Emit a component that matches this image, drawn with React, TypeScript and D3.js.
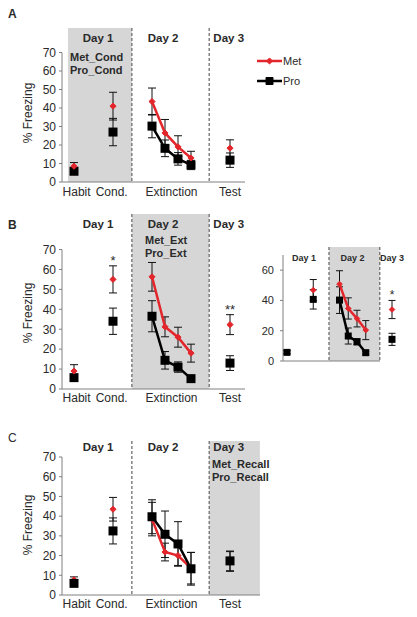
import React from "react";
import * as d3 from "d3";

// ---------- data ----------
const categories = ["Habit", "Cond.", "Ext 1", "Ext 2", "Ext 3", "Ext 4", "Test"];
const xUnits = [0, 3, 6, 7, 8, 9, 12];
const extIdx = [2, 3, 4, 5];
const xTickLabels = ["Habit", "Cond.", "Extinction", "Test"];
const xTickUnits = [0.2, 2.9, 7.5, 12];
const dayLabels = ["Day 1", "Day 2", "Day 3"];
const dayUnits = [1.85, 6.85, 11.9];
const insetDayUnits = [1.95, 7.5, 12];
const yTicks = [0, 10, 20, 30, 40, 50, 60, 70];
const insetYTicks = [0, 20, 40, 60];
const seriesNames = ["Met", "Pro"];

// Panel A
const metA = [8.5, 41, 43.5, 26.5, 19, 13, 18.3];
const metErrA = [2, 7.5, 7.3, 7.3, 6, 3.6, 4.5];
const proA = [5.8, 27, 30.2, 18.2, 12.5, 9.2, 11.8];
const proErrA = [1.5, 7.4, 6.3, 4.5, 3.4, 2.5, 3.9];
const annotA = ["Met_Cond", "Pro_Cond"];

// Panel B
const metB = [9, 55, 56.3, 31.2, 26, 18, 32.3];
const metErrB = [3.2, 6.8, 7.2, 5, 5, 4.5, 5];
const proB = [5.7, 34, 36.5, 14.4, 11, 5.2, 13];
const proErrB = [1, 6.6, 7.8, 4.4, 2.6, 1, 3.7];
const annotB = ["Met_Ext", "Pro_Ext"];
const sigB = [{ idx: 1, text: "*" }, { idx: 6, text: "**" }];

// Panel B inset
const metInset = [6, 46.8, 50.8, 34.7, 28, 20.4, 34];
const metErrInset = [1, 7, 8.8, 7, 5.5, 6.3, 6];
const proInset = [5.7, 40.7, 40.2, 16.5, 12.7, 5.5, 14.3];
const proErrInset = [1, 6.4, 8.8, 5.3, 2, 1, 4];
const sigInset = [{ idx: 6, text: "*" }];

// Panel C
const metC = [7.7, 43.5, 38.5, 21.8, 20, 13.6, 17];
const metErrC = [1.5, 6, 8.5, 4.5, 5, 8, 5];
const proC = [5.9, 32.5, 39.7, 30.8, 25.9, 13.3, 17.3];
const proErrC = [1.5, 6.6, 8.6, 11.8, 11.3, 8.3, 5];
const annotC = ["Met_Recall", "Pro_Recall"];

// ---------- style ----------
const RED = "#e3262b";
const BLACK = "#000";
const GRAY = "#d6d6d6";
const TEXT = "#2a2a2a";
const FONT = "'Liberation Sans', Arial, Helvetica, sans-serif";

type Sig = { idx: number; text: string };

interface PanelProps {
  letter?: string;
  letterY?: number;
  letterBold?: boolean;
  xr: [number, number];
  y0: number;
  y70: number;
  axisX: number;
  axisEnd: number;
  grayUnits: [number, number];
  grayTop: number;
  dashUnits: number[];
  dayY: number;
  dayUnitsArr: number[];
  dayFont: number;
  met: number[];
  metErr: number[];
  pro: number[];
  proErr: number[];
  proOnTop: boolean;
  annot?: string[];
  annotX?: number;
  annotY?: number;
  sig?: Sig[];
  sigFont?: number;
  ticks: number[];
  tickFont: number;
  tickGap: number;
  showXLabels: boolean;
  xLabelY?: number;
  yLabelY?: number;
  sqSize: number;
  diaSize: number;
  capW: number;
  lineW: number;
}

function Panel(p: PanelProps) {
  const x = d3.scaleLinear().domain([0, 12]).range(p.xr);
  const y = d3.scaleLinear().domain([0, 70]).range([p.y0, p.y70]);
  const sq = d3.symbol().type(d3.symbolSquare).size(p.sqSize)() as string;
  const dia = d3.symbol().type(d3.symbolDiamond2).size(p.diaSize)() as string;

  const mkLine = (vals: number[]) =>
    d3
      .line<number>()
      .x((i) => x(xUnits[i]))
      .y((i) => y(vals[i]))(extIdx) as string;

  const errBars = (vals: number[], errs: number[], key: string) =>
    vals.map((v, i) => {
      const cx = x(xUnits[i]);
      const yt = y(v + errs[i]);
      const yb = y(Math.max(0, v - errs[i]));
      return (
        <g key={key + i} stroke="#111" strokeWidth={1}>
          <line x1={cx} x2={cx} y1={yt} y2={yb} />
          <line x1={cx - p.capW / 2} x2={cx + p.capW / 2} y1={yt} y2={yt} />
          <line x1={cx - p.capW / 2} x2={cx + p.capW / 2} y1={yb} y2={yb} />
        </g>
      );
    });

  const metLayer = (
    <g key="met">
      <path d={mkLine(p.met)} fill="none" stroke={RED} strokeWidth={p.lineW} />
      {p.met.map((v, i) => (
        <path
          key={i}
          d={dia}
          transform={`translate(${x(xUnits[i])},${y(v)})`}
          fill={RED}
          stroke={RED}
          strokeWidth={1}
          strokeLinejoin="round"
        />
      ))}
    </g>
  );
  const proLayer = (
    <g key="pro">
      <path d={mkLine(p.pro)} fill="none" stroke={BLACK} strokeWidth={p.lineW} />
      {p.pro.map((v, i) => (
        <path key={i} d={sq} transform={`translate(${x(xUnits[i])},${y(v)})`} fill={BLACK} />
      ))}
    </g>
  );

  const gx0 = x(p.grayUnits[0]);
  const gx1 = x(p.grayUnits[1]);

  return (
    <g fontFamily={FONT}>
      {p.letter && (
        <text x={8} y={p.letterY} fontSize={12} fontWeight={p.letterBold ? "bold" : "normal"} fill={TEXT}>
          {p.letter}
        </text>
      )}
      <rect x={gx0} y={p.grayTop} width={gx1 - gx0} height={p.y0 - p.grayTop} fill={GRAY} />
      {p.dashUnits.map((u, i) => (
        <line
          key={"d" + i}
          x1={x(u)}
          x2={x(u)}
          y1={p.grayTop}
          y2={p.y0}
          stroke="#6f6f6f"
          strokeWidth={1.3}
          strokeDasharray="3,2"
        />
      ))}
      {/* axes */}
      <line x1={p.axisX} x2={p.axisX} y1={p.y0} y2={y(70)} stroke="#808080" strokeWidth={1} />
      <line x1={p.axisX} x2={p.axisEnd} y1={p.y0} y2={p.y0} stroke="#808080" strokeWidth={1} />
      {p.ticks.map((t) => (
        <g key={"t" + t}>
          <line x1={p.axisX - 3} x2={p.axisX} y1={y(t)} y2={y(t)} stroke="#808080" />
          <text
            x={p.axisX - p.tickGap}
            y={y(t)}
            dy="0.36em"
            textAnchor="end"
            fontSize={p.tickFont}
            fill={TEXT}
          >
            {t}
          </text>
        </g>
      ))}
      {p.showXLabels &&
        xTickLabels.map((l, i) => (
          <text key={l} x={x(xTickUnits[i])} y={p.xLabelY} textAnchor="middle" fontSize={12} fill={TEXT}>
            {l}
          </text>
        ))}
      {p.yLabelY !== undefined && (
        <text
          transform={`translate(32,${p.yLabelY}) rotate(-90)`}
          textAnchor="middle"
          fontSize={12}
          fill={TEXT}
        >
          % Freezing
        </text>
      )}
      {dayLabels.map((d, i) => (
        <text
          key={d}
          x={x(p.dayUnitsArr[i])}
          y={p.dayY}
          textAnchor="middle"
          fontSize={p.dayFont}
          fontWeight="bold"
          fill={TEXT}
        >
          {d}
        </text>
      ))}
      {p.annot &&
        p.annot.map((a, i) => (
          <text key={a} x={p.annotX} y={(p.annotY as number) + i * 13} fontSize={11} fontWeight="bold" fill={TEXT}>
            {a}
          </text>
        ))}
      {errBars(p.pro, p.proErr, "pe")}
      {errBars(p.met, p.metErr, "me")}
      {p.proOnTop ? [metLayer, proLayer] : [proLayer, metLayer]}
      {p.sig &&
        p.sig.map((s) => (
          <text
            key={"s" + s.idx}
            x={x(xUnits[s.idx])}
            y={y(p.met[s.idx] + p.metErr[s.idx]) - 1}
            textAnchor="middle"
            fontSize={p.sigFont}
            fill={TEXT}
          >
            {s.text}
          </text>
        ))}
    </g>
  );
}

function Legend() {
  const dia = d3.symbol().type(d3.symbolDiamond2).size(24)() as string;
  const sq = d3.symbol().type(d3.symbolSquare).size(49)() as string;
  const rows = [
    { name: seriesNames[0], color: RED, mark: dia, y: 61 },
    { name: seriesNames[1], color: BLACK, mark: sq, y: 81 },
  ];
  return (
    <g fontFamily={FONT}>
      {rows.map((r) => (
        <g key={r.name}>
          <line x1={257} x2={282} y1={r.y} y2={r.y} stroke={r.color} strokeWidth={2.5} />
          <path
            d={r.mark}
            transform={`translate(269.5,${r.y})`}
            fill={r.color}
            stroke={r.color}
            strokeWidth={1}
            strokeLinejoin="round"
          />
          <text x={283} y={r.y} dy="0.36em" fontSize={11} fill={TEXT}>
            {r.name}
          </text>
        </g>
      ))}
    </g>
  );
}

export default function App() {
  const common = {
    xr: [74, 230] as [number, number],
    axisX: 62,
    dayUnitsArr: dayUnits,
    dayFont: 11.5,
    ticks: yTicks,
    tickFont: 12,
    tickGap: 6,
    showXLabels: true,
    sqSize: 81,
    diaSize: 24,
    capW: 8,
    lineW: 2.5,
    dashUnits: [4.45, 10.4],
  };
  return (
    <svg
      width={417}
      height={617}
      viewBox="0 0 417 617"
      style={{ position: "absolute", left: 0, top: 0, background: "#fff" }}
    >
      <rect width={417} height={617} fill="#fff" />
      <Panel
        {...common}
        letter="A"
        letterY={18}
        letterBold
        y0={182}
        y70={52.5}
        axisEnd={245}
        grayUnits={[-0.46, 4.45]}
        grayTop={28}
        dayY={42}
        met={metA}
        metErr={metErrA}
        pro={proA}
        proErr={proErrA}
        proOnTop={false}
        annot={annotA}
        annotX={70}
        annotY={61}
        xLabelY={196}
        yLabelY={113}
      />
      <Legend />
      <Panel
        {...common}
        letter="B"
        letterY={229}
        letterBold
        y0={389}
        y70={249.5}
        axisEnd={245}
        grayUnits={[4.45, 10.4]}
        grayTop={214}
        dayY={228}
        met={metB}
        metErr={metErrB}
        pro={proB}
        proErr={proErrB}
        proOnTop={false}
        annot={annotB}
        annotX={145}
        annotY={244}
        sig={sigB}
        sigFont={13}
        xLabelY={402}
        yLabelY={313}
      />
      <Panel
        xr={[287, 392]}
        axisX={283}
        axisEnd={380}
        y0={361}
        y70={255}
        grayUnits={[4.8, 10.6]}
        grayTop={247}
        dashUnits={[4.8, 10.6]}
        dayY={261}
        dayUnitsArr={insetDayUnits}
        dayFont={9}
        met={metInset}
        metErr={metErrInset}
        pro={proInset}
        proErr={proErrInset}
        proOnTop={true}
        sig={sigInset}
        sigFont={12}
        ticks={insetYTicks}
        tickFont={11}
        tickGap={9}
        showXLabels={false}
        sqSize={49}
        diaSize={20}
        capW={7}
        lineW={2.5}
      />
      <Panel
        {...common}
        letter="C"
        letterY={442}
        letterBold={false}
        y0={595}
        y70={457}
        axisEnd={260}
        grayUnits={[10.4, 14.3]}
        grayTop={441}
        dayY={451}
        met={metC}
        metErr={metErrC}
        pro={proC}
        proErr={proErrC}
        proOnTop={true}
        annot={annotC}
        annotX={212}
        annotY={468}
        xLabelY={608}
        yLabelY={525}
      />
    </svg>
  );
}
